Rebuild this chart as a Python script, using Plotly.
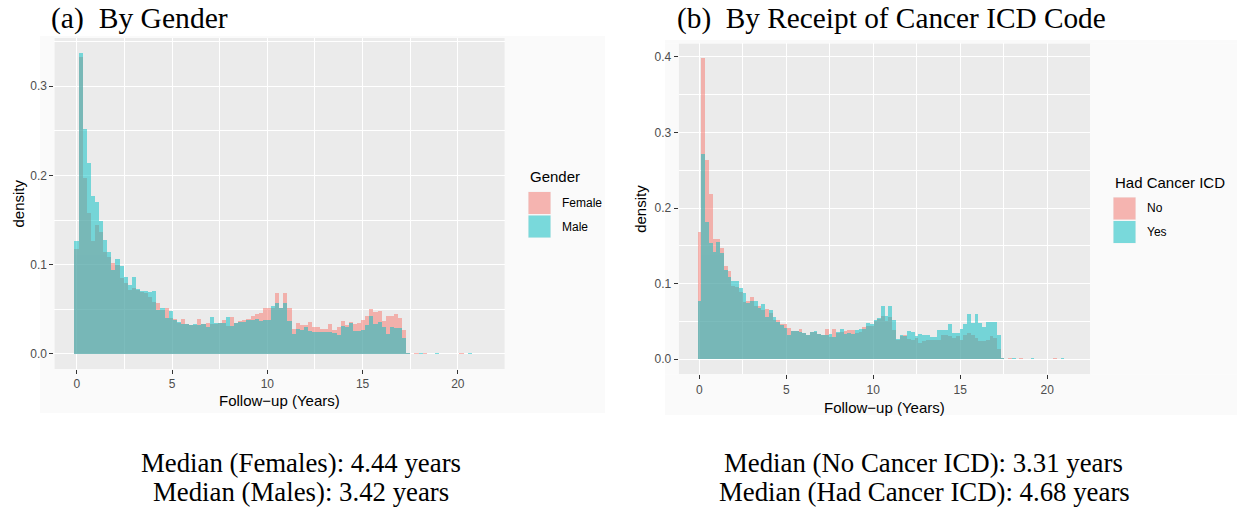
import numpy as np
import plotly.graph_objects as go

W, H = 1237, 508

# ---- histogram settings (100 bins, first bin centred on 0) ----
BIN_WIDTH = 0.215
N_BINS = 100

# ---- (a) density by gender ----
female = [0.118, 0.333, 0.197, 0.1575, 0.126, 0.1445, 0.137, 0.1146, 0.109, 0.1015,
          0.0997, 0.0847, 0.080, 0.0717, 0.0735, 0.0717, 0.069, 0.068, 0.064, 0.0586,
          0.0567, 0.049, 0.052, 0.040, 0.039, 0.035, 0.039, 0.0336, 0.0325, 0.032,
          0.039, 0.0336, 0.035, 0.034, 0.0336, 0.035, 0.038, 0.031, 0.041, 0.035,
          0.037, 0.038, 0.039, 0.042, 0.045, 0.0455, 0.052, 0.052, 0.052, 0.068,
          0.051, 0.068, 0.051, 0.0276, 0.0345, 0.0325, 0.032, 0.0355, 0.030, 0.030,
          0.028, 0.0276, 0.033, 0.0265, 0.030, 0.0365, 0.0325, 0.036, 0.034, 0.035,
          0.0385, 0.042, 0.0505, 0.047, 0.048, 0.037, 0.042, 0.042, 0.045, 0.040,
          0.027,
          0.0002, 0.0, 0.0001, 0.0, 0.0001, 0.0, 0.0, 0.0, 0.0, 0.0,
          0.0, 0.0, 0.0, 0.0001, 0.0, 0.0, 0.0, 0.0, 0.0]
male = [0.126, 0.337, 0.252, 0.2135, 0.177, 0.170, 0.149, 0.128, 0.114, 0.094,
        0.106, 0.099, 0.086, 0.077, 0.086, 0.0724, 0.070, 0.070, 0.069, 0.070,
        0.049, 0.052, 0.040, 0.0485, 0.038, 0.0355, 0.034, 0.034, 0.0325, 0.034,
        0.0325, 0.0336, 0.030, 0.041, 0.035, 0.035, 0.035, 0.041, 0.031, 0.035,
        0.036, 0.036, 0.038, 0.038, 0.039, 0.037, 0.038, 0.038, 0.054, 0.057,
        0.052, 0.057, 0.037, 0.022, 0.0276, 0.027, 0.030, 0.026, 0.025, 0.025,
        0.025, 0.025, 0.025, 0.024, 0.0213, 0.0314, 0.030, 0.0343, 0.0258, 0.0258,
        0.027, 0.0325, 0.042, 0.0336, 0.036, 0.030, 0.0224, 0.030, 0.0295, 0.0295,
        0.0175,
        0.0002, 0.0, 0.0, 0.0001, 0.0, 0.0, 0.0, 0.0001, 0.0, 0.0,
        0.0, 0.0, 0.0, 0.0, 0.0, 0.0001, 0.0, 0.0, 0.0]

# ---- (b) density by receipt of a cancer ICD code ----
no_icd = [0.168, 0.398, 0.2635, 0.218, 0.159, 0.159, 0.147, 0.123, 0.116, 0.096,
          0.095, 0.089, 0.075, 0.076, 0.082, 0.0695, 0.070, 0.065, 0.066, 0.061,
          0.052, 0.052, 0.0467, 0.046, 0.041, 0.0365, 0.0365, 0.040, 0.0343, 0.031,
          0.0357, 0.036, 0.033, 0.032, 0.040, 0.029, 0.040, 0.034, 0.035, 0.037,
          0.038, 0.038, 0.034, 0.035, 0.042, 0.044, 0.044, 0.0497, 0.053, 0.0563,
          0.0497, 0.0554, 0.0387, 0.0255, 0.030, 0.031, 0.0264, 0.0255, 0.0277, 0.021,
          0.023, 0.0255, 0.0246, 0.0246, 0.0255, 0.032, 0.032, 0.030, 0.0277, 0.030,
          0.0255, 0.032, 0.034, 0.032, 0.0277, 0.023, 0.023, 0.0255, 0.030, 0.0277,
          0.013,
          0.0002, 0.0, 0.0001, 0.0, 0.0, 0.0001, 0.0, 0.0, 0.0, 0.0,
          0.0, 0.0, 0.0, 0.0, 0.0001, 0.0, 0.0, 0.0, 0.0]
yes_icd = [0.076, 0.2715, 0.181, 0.153, 0.141, 0.154, 0.140, 0.118, 0.108, 0.1035,
           0.1035, 0.094, 0.087, 0.074, 0.076, 0.076, 0.067, 0.072, 0.056, 0.065,
           0.0555, 0.0485, 0.0453, 0.041, 0.032, 0.0365, 0.037, 0.035, 0.0343, 0.032,
           0.0357, 0.037, 0.033, 0.032, 0.032, 0.033, 0.029, 0.036, 0.040, 0.033,
           0.034, 0.033, 0.038, 0.039, 0.039, 0.0475, 0.046, 0.051, 0.054, 0.0705,
           0.0563, 0.0705, 0.051, 0.026, 0.032, 0.030, 0.037, 0.036, 0.0308, 0.033,
           0.032, 0.032, 0.0286, 0.0286, 0.0387, 0.0387, 0.0387, 0.046, 0.034, 0.034,
           0.0396, 0.046, 0.0595, 0.0475, 0.0595, 0.0475, 0.042, 0.0485, 0.0485, 0.0485,
           0.032,
           0.0003, 0.0, 0.0, 0.0001, 0.0, 0.0, 0.0, 0.0, 0.0001, 0.0,
           0.0, 0.0, 0.0, 0.0, 0.0, 0.0, 0.0001, 0.0, 0.0]

x_ticks = [0, 5, 10, 15, 20]
y_ticks_a = [0.0, 0.1, 0.2, 0.3]
y_ticks_b = [0.0, 0.1, 0.2, 0.3, 0.4]

titles = ["(a)\u00a0\u00a0By Gender", "(b)\u00a0\u00a0By Receipt of Cancer ICD Code"]
captions_a = ["Median (Females): 4.44 years", "Median (Males): 3.42 years"]
captions_b = ["Median (No Cancer ICD): 3.31 years", "Median (Had Cancer ICD): 4.68 years"]

PINK = "#F8766D"
TEAL = "#00BFC4"
PANEL_BG = "#EBEBEB"
SANS = "Liberation Sans, Arial, sans-serif"
SERIF = "Liberation Serif, Times New Roman, serif"

centers = np.arange(N_BINS) * BIN_WIDTH
lo_edge = centers[0] - BIN_WIDTH / 2
hi_edge = centers[-1] + BIN_WIDTH / 2
span = hi_edge - lo_edge
x_range = [lo_edge - 0.05 * span, hi_edge + 0.05 * span]


def y_range(*series):
    top = max(max(s) for s in series)
    return [-0.05 * top, 1.05 * top]


def px(x):
    return x / W


def py(y):
    return 1 - y / H


fig = go.Figure()

for vals, col, xa, ya in [(female, PINK, "x", "y"), (male, TEAL, "x", "y"),
                          (no_icd, PINK, "x2", "y2"), (yes_icd, TEAL, "x2", "y2")]:
    fig.add_trace(go.Bar(x=centers, y=vals, width=BIN_WIDTH, xaxis=xa, yaxis=ya,
                         marker=dict(color=col, line=dict(width=0)), opacity=0.5,
                         showlegend=False, hoverinfo="skip"))

common_x = dict(range=x_range, tickvals=x_ticks, ticks="outside", ticklen=4, tickwidth=1,
                tickcolor="#333333", showgrid=True, gridcolor="white", gridwidth=1.3,
                zeroline=False, showline=False,
                tickfont=dict(family=SANS, size=12, color="#4D4D4D"),
                minor=dict(tickvals=[2.5, 7.5, 12.5, 17.5], showgrid=True,
                           gridcolor="white", gridwidth=0.6, ticks=""))
common_y = dict(ticks="outside", ticklen=4, tickwidth=1, tickcolor="#333333",
                showgrid=True, gridcolor="white", gridwidth=1.3, zeroline=False,
                showline=False, tickformat=".1f",
                tickfont=dict(family=SANS, size=12, color="#4D4D4D"))

# panel pixel boxes: (left, right, top, bottom)
box_a = (54.3, 504.8, 38.0, 369.0)
box_b = (678.7, 1090.2, 43.4, 374.3)

fig.update_layout(
    width=W, height=H, margin=dict(l=0, r=0, t=0, b=0),
    paper_bgcolor="white", plot_bgcolor=PANEL_BG, barmode="overlay", bargap=0,
    xaxis=dict(domain=[px(box_a[0]), px(box_a[1])], anchor="y", **common_x),
    yaxis=dict(domain=[py(box_a[3]), py(box_a[2])], anchor="x", range=y_range(female, male),
               tickvals=y_ticks_a,
               minor=dict(tickvals=[0.05, 0.15, 0.25, 0.35], showgrid=True,
                          gridcolor="white", gridwidth=0.6, ticks=""),
               **common_y),
    xaxis2=dict(domain=[px(box_b[0]), px(box_b[1])], anchor="y2", **common_x),
    yaxis2=dict(domain=[py(box_b[3]), py(box_b[2])], anchor="x2", range=y_range(no_icd, yes_icd),
                tickvals=y_ticks_b,
                minor=dict(tickvals=[0.05, 0.15, 0.25, 0.35], showgrid=True,
                           gridcolor="white", gridwidth=0.6, ticks=""),
                **common_y),
)

shapes = []
annotations = []

# faint backdrop of each chart image, drawn as strips around the panel
for (x0, x1, y0, y1), (l, r, t, b) in [((40, 605, 36, 413), box_a),
                                       ((665, 1237, 40, 415), box_b)]:
    for sx0, sx1, sy0, sy1 in [(x0, x1, y0, t), (x0, x1, b, y1), (x0, l, t, b), (r, x1, t, b)]:
        shapes.append(dict(type="rect", xref="paper", yref="paper", layer="below",
                           x0=px(sx0), x1=px(sx1), y0=py(sy1), y1=py(sy0),
                           fillcolor="#FAFAFA", line=dict(width=0)))


def text(x, y, s, size, family=SANS, color="black", xanchor="center", angle=0):
    annotations.append(dict(x=px(x), y=py(y), xref="paper", yref="paper", text=s,
                            showarrow=False, xanchor=xanchor, yanchor="middle",
                            textangle=angle,
                            font=dict(family=family, size=size, color=color)))


# headings
text(49, 18, titles[0], 29.6, family=SERIF, xanchor="left")
text(675, 18, titles[1], 29.3, family=SERIF, xanchor="left")

# axis titles
text((box_a[0] + box_a[1]) / 2, 400, "Follow\u2212up (Years)", 15)
text((box_b[0] + box_b[1]) / 2, 407, "Follow\u2212up (Years)", 15)
text(18, (box_a[2] + box_a[3]) / 2, "density", 15, angle=-90)
text(641, (box_b[2] + box_b[3]) / 2, "density", 15, angle=-90)


# legends
def legend(x, y_title, title, labels, colors, y_first):
    text(x, y_title, title, 15, xanchor="left")
    for i, (lab, col) in enumerate(zip(labels, colors)):
        top = y_first + i * 23.5
        shapes.append(dict(type="rect", xref="paper", yref="paper",
                           x0=px(x), x1=px(x + 23), y0=py(top + 23), y1=py(top),
                           fillcolor="#F2F2F2", line=dict(width=0)))
        shapes.append(dict(type="rect", xref="paper", yref="paper",
                           x0=px(x + 0.5), x1=px(x + 22.5), y0=py(top + 22.5), y1=py(top + 0.5),
                           fillcolor=col, opacity=0.5, line=dict(width=0)))
        text(x + 32, top + 11.5, lab, 12, xanchor="left")


legend(528, 176, "Gender", ["Female", "Male"], [PINK, TEAL], 191.5)
legend(1113, 182, "Had Cancer ICD", ["No", "Yes"], [PINK, TEAL], 197)

# medians below each chart
text(301, 463, captions_a[0], 26.8, family=SERIF)
text(301, 492, captions_a[1], 26.8, family=SERIF)
text(923, 463, captions_b[0], 26.8, family=SERIF)
text(924, 492, captions_b[1], 26.8, family=SERIF)

fig.update_layout(shapes=shapes, annotations=annotations)
fig.write_html("out.html")
